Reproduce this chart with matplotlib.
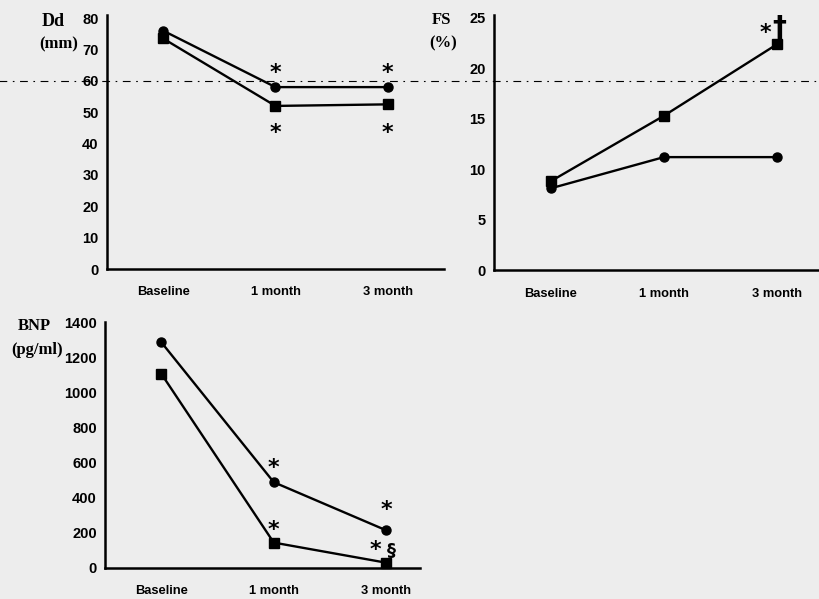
import matplotlib.pyplot as plt

# time points
times = ["Baseline", "1 month", "3 month"]
x = [0, 1, 2]

# Dd (mm)
dd_circle = [76, 58, 58]
dd_square = [73.5, 52, 52.5]

# FS (%)
fs_circle = [8.1, 11.2, 11.2]
fs_square = [8.8, 15.3, 22.4]

# BNP (pg/ml)
bnp_circle = [1290, 490, 215]
bnp_square = [1110, 145, 30]

bg = "#ededed"
plt.rcParams["font.family"] = ["Liberation Sans", "DejaVu Sans"]

fig = plt.figure(figsize=(8.19, 5.99), dpi=100, facecolor=bg)

ax1 = fig.add_axes([0.1306, 0.5509, 0.4115, 0.4241])
ax2 = fig.add_axes([0.6032, 0.5492, 0.3968, 0.4258])
ax3 = fig.add_axes([0.1282, 0.0518, 0.3846, 0.4106])


def style(ax, ylim, yticks, xlim, ypad, xpad):
    ax.set_facecolor("none")
    for s in ["top", "right"]:
        ax.spines[s].set_visible(False)
    for s in ["left", "bottom"]:
        ax.spines[s].set_linewidth(1.8)
    ax.set_xlim(*xlim)
    ax.set_ylim(*ylim)
    ax.set_yticks(yticks)
    ax.set_xticks(x)
    ax.set_xticklabels(times)
    ax.tick_params(axis="y", length=0, pad=ypad, labelsize=10.5)
    ax.tick_params(axis="x", length=0, pad=xpad, labelsize=9.3)
    for lab in ax.get_xticklabels() + ax.get_yticklabels():
        lab.set_fontweight("bold")


def series(ax, vals, marker):
    ax.plot(x, vals, color="black", lw=1.7, marker=marker, ms=6.5,
            clip_on=False, zorder=3)


def star(ax, xx, yy, s="*", size=16):
    ax.text(xx, yy, s, ha="center", va="center", fontsize=size,
            fontweight="bold", family="DejaVu Sans")


# Dd panel
style(ax1, (0, 81), range(0, 81, 10), (-0.5, 2.5), 6, 12)
series(ax1, dd_circle, "o")
series(ax1, dd_square, "s")
ax1.axhline(60, xmin=-0.32, xmax=2.12, color="black", lw=0.8,
            ls=(0, (7, 5, 1.5, 5)), clip_on=False)
for xx in [1, 2]:
    star(ax1, xx, 62.5)
    star(ax1, xx, 43.5)

# FS panel
style(ax2, (0, 25.3), range(0, 26, 5), (-0.5, 2.37), 6, 13)
series(ax2, fs_circle, "o")
series(ax2, fs_square, "s")
star(ax2, 1.9, 23.5)
star(ax2, 2.02, 24.0, "†", 20)

# BNP panel
style(ax3, (0, 1405), range(0, 1401, 200), (-0.5, 2.3), 6, 12)
series(ax3, bnp_circle, "o")
series(ax3, bnp_square, "s")
star(ax3, 1, 570)
star(ax3, 1, 215)
star(ax3, 2, 330)
star(ax3, 1.9, 105)
star(ax3, 2.05, 95, "§", 13)

# axis titles
tfont = dict(family=["Liberation Serif", "DejaVu Serif"], fontweight="bold",
             ha="center", va="center")
fig.text(53 / 819, 1 - 21 / 599, "Dd", fontsize=13, **tfont)
fig.text(59 / 819, 1 - 44 / 599, "(mm)", fontsize=12, **tfont)
fig.text(442 / 819, 1 - 20 / 599, "FS", fontsize=12, **tfont)
fig.text(443 / 819, 1 - 43 / 599, "(%)", fontsize=12, **tfont)
fig.text(34 / 819, 1 - 326 / 599, "BNP", fontsize=12, **tfont)
fig.text(37 / 819, 1 - 350 / 599, "(pg/ml)", fontsize=12, **tfont)

fig.savefig("out.png", dpi=100, facecolor=bg)
